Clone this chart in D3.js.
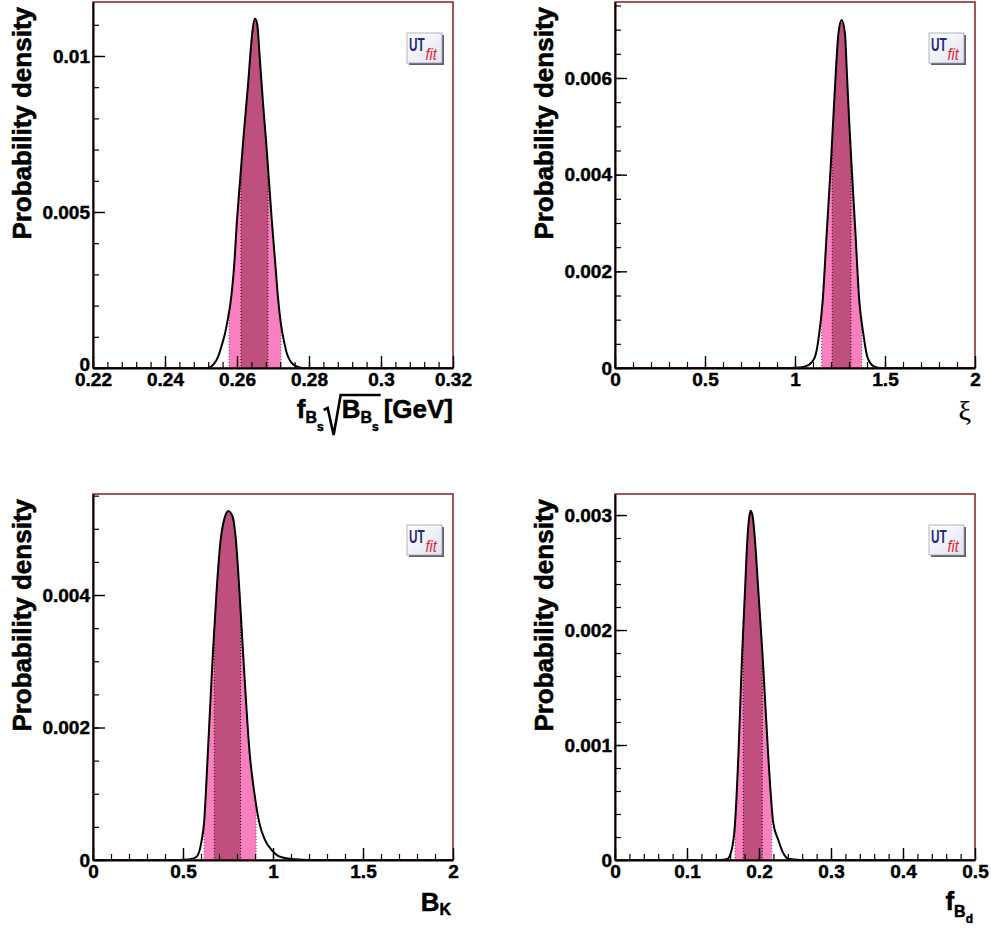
<!DOCTYPE html>
<html><head><meta charset="utf-8">
<script src="https://cdn.jsdelivr.net/npm/d3@7"></script>
<style>body{margin:0;background:#fff} svg{display:block}</style>
</head><body>
<svg id="c" width="991" height="929"></svg>
<script>
// ---------- DATA ----------
// Panel 1: f_Bs sqrt(B_Bs) [GeV]
const fbsX = [0.22, 0.2511, 0.2525, 0.2536, 0.2547, 0.2558, 0.2567, 0.2575, 0.2583, 0.2592, 0.2600, 0.2608, 0.2619, 0.2631, 0.2639, 0.2644, 0.2650,
              0.2656, 0.2664, 0.2672, 0.2681, 0.2689, 0.2697, 0.2706, 0.2714, 0.2722, 0.2731, 0.2739, 0.2750, 0.2764, 0.2783, 0.32];
const fbsY = [0, 0, 0.00003, 0.00013, 0.00035, 0.00074, 0.00112, 0.00160, 0.00218, 0.00327, 0.00474, 0.00593, 0.00753, 0.00913, 0.01032, 0.01090, 0.01119,
              0.01103, 0.00981, 0.00853, 0.00724, 0.00596, 0.00468, 0.00340, 0.00224, 0.00141, 0.00083, 0.00045, 0.00019, 0.00006, 0, 0];
const fbsBand68 = [0.2611, 0.2686];
const fbsBand95 = [0.2578, 0.2722];
const fbsXTicks = [0.22, 0.24, 0.26, 0.28, 0.30, 0.32];
const fbsXLabels = ["0.22", "0.24", "0.26", "0.28", "0.3", "0.32"];
const fbsYTicks = [0, 0.005, 0.01];
const fbsYLabels = ["0", "0.005", "0.01"];

// Panel 2: xi
const xiX = [0, 0.972, 1.028, 1.074, 1.111, 1.135, 1.154, 1.176, 1.198, 1.213, 1.228, 1.241, 1.259,
             1.278, 1.287, 1.300, 1.315, 1.336, 1.357, 1.379, 1.402, 1.435, 1.472, 2];
const xiY = [0, 0, 0.00001, 0.00006, 0.00023, 0.00072, 0.00140, 0.00278, 0.00414, 0.00518, 0.00621, 0.00691, 0.00720,
             0.00691, 0.00621, 0.00518, 0.00414, 0.00278, 0.00140, 0.00072, 0.00023, 0.00004, 0, 0];
const xiBand68 = [1.207, 1.311];
const xiBand95 = [1.148, 1.371];
const xiXTicks = [0, 0.5, 1, 1.5, 2];
const xiXLabels = ["0", "0.5", "1", "1.5", "2"];
const xiYTicks = [0, 0.002, 0.004, 0.006];
const xiYLabels = ["0", "0.002", "0.004", "0.006"];

// Panel 3: B_K
const bkX = [0, 0.483, 0.539, 0.576, 0.604, 0.617, 0.637, 0.665, 0.687, 0.709, 0.733, 0.752,
             0.776, 0.794, 0.813, 0.835, 0.872, 0.894, 0.924, 0.956, 0.993, 1.039, 1.122, 1.20, 2];
const bkY = [0, 0, 0.00001, 0.00005, 0.00030, 0.00056, 0.00156, 0.00307, 0.00408, 0.00483, 0.00518, 0.00527,
             0.00518, 0.00483, 0.00408, 0.00307, 0.00156, 0.00106, 0.00056, 0.00030, 0.00015, 0.00005, 0.00001, 0, 0];
const bkBand68 = [0.674, 0.820];
const bkBand95 = [0.617, 0.906];
const bkXTicks = [0, 0.5, 1, 1.5, 2];
const bkXLabels = ["0", "0.5", "1", "1.5", "2"];
const bkYTicks = [0, 0.002, 0.004];
const bkYLabels = ["0", "0.002", "0.004"];

// Panel 4: f_Bd
const fbdX = [0, 0.1458, 0.156, 0.162, 0.1667, 0.1713, 0.1764, 0.1806, 0.1838, 0.1865, 0.1884,
              0.1913, 0.1944, 0.1990, 0.2051, 0.2129, 0.2199, 0.2268, 0.2338, 0.2407, 0.257, 0.5];
const fbdY = [0, 0, 0.00001, 0.000087, 0.000319, 0.000898, 0.001768, 0.002348, 0.002783, 0.002985, 0.003037,
              0.002985, 0.002783, 0.002348, 0.001768, 0.000898, 0.000319, 0.000174, 0.000058, 0.00001, 0, 0];
const fbdBand68 = [0.1782, 0.2046];
const fbdBand95 = [0.1667, 0.2176];
const fbdXTicks = [0, 0.1, 0.2, 0.3, 0.4, 0.5];
const fbdXLabels = ["0", "0.1", "0.2", "0.3", "0.4", "0.5"];
const fbdYTicks = [0, 0.001, 0.002, 0.003];
const fbdYLabels = ["0", "0.001", "0.002", "0.003"];

const yTitle = "Probability density";

// ---------- DRAWING ----------
const svg = d3.select('#c');
const W = 360, H = 366;
const FONT = "'Liberation Sans', Arial, Helvetica, sans-serif";
const DARK = "#bf507e", LIGHT = "#f880bf";

const defs = svg.append('defs');
const grad = defs.append('linearGradient').attr('id', 'logoGrad').attr('x1', 0).attr('y1', 0).attr('x2', 1).attr('y2', 1);
grad.append('stop').attr('offset', '0%').attr('stop-color', '#ffffff');
grad.append('stop').attr('offset', '100%').attr('stop-color', '#e2e2f2');

function minorTicks(domain, step) {
  const n = Math.round((domain[1] - domain[0]) / step);
  return d3.range(n + 1).map(i => domain[0] + i * step);
}

function styleText(sel, size, sw) {
  sel.attr('font-family', FONT).attr('font-size', size).attr('font-weight', 'bold').attr('fill', '#000')
     .attr('stroke', '#000').attr('stroke-width', sw == null ? 0.45 : sw);
}

function drawTitle(g, segs, xRight, baseY) {
  const tg = g.append('g');
  let cx = 0; let sqrtX0 = null;
  const items = [];
  segs.forEach(s => {
    if (s.sqrtStart) { sqrtX0 = cx; cx += 18; return; }
    if (s.sqrtEnd) { items.push({x0: sqrtX0, x1: cx + 2}); cx += 5; return; }
    const t = tg.append('text').attr('x', cx).attr('y', baseY + (s.dy || 0)).text(s.t)
      .attr('font-family', s.family || FONT).attr('font-size', s.size)
      .attr('font-weight', s.weight || 'bold').attr('font-style', s.style || 'normal').attr('fill', '#000')
      .attr('stroke', '#000').attr('stroke-width', s.weight === 'normal' ? 0.2 : 0.5);
    cx += t.node().getComputedTextLength() + (s.gap || 0);
  });
  items.forEach(it => {
    const x0 = it.x0;
    tg.append('path')
      .attr('d', `M${x0},${baseY - 8} L${x0 + 4},${baseY - 10} L${x0 + 10},${baseY + 17} L${x0 + 17},${baseY - 23} L${it.x1},${baseY - 23}`)
      .attr('fill', 'none').attr('stroke', '#000').attr('stroke-width', 2.6).attr('stroke-linejoin', 'miter');
  });
  tg.attr('transform', `translate(${xRight - cx},0)`);
}

function drawLogo(g, x0, y0) {
  const lg = g.append('g').attr('transform', `translate(${x0},${y0})`);
  lg.append('rect').attr('x', 2).attr('y', 2).attr('width', 35).attr('height', 30).attr('fill', '#5e5e70');
  lg.append('rect').attr('x', 0).attr('y', 0).attr('width', 35).attr('height', 30)
    .attr('fill', 'url(#logoGrad)').attr('stroke', '#a0a0b4').attr('stroke-width', 0.8);
  lg.append('text').attr('transform', 'translate(2,17.5) scale(0.62,1)').text('UT')
    .attr('font-family', FONT).attr('font-weight', 'bold').attr('font-size', 19)
    .attr('fill', '#1f2a78');
  lg.append('text').attr('transform', 'translate(18.5,26.5) scale(0.9,1)').text('fit')
    .attr('font-family', FONT).attr('font-style', 'italic').attr('font-size', 16)
    .attr('fill', '#e3262e');
}

function drawPanel(cfg, idx) {
  const g = svg.append('g').attr('transform', `translate(${cfg.left},${cfg.top})`);
  const x = d3.scaleLinear().domain(cfg.xDomain).range([0, W]);
  const y = d3.scaleLinear().domain(cfg.yDomain).range([H, 0]);

  const pts = d3.zip(cfg.xs, cfg.ys);
  const area = d3.area().x(d => x(d[0])).y0(H).y1(d => y(d[1])).curve(d3.curveMonotoneX);
  const line = d3.line().x(d => x(d[0])).y(d => y(d[1])).curve(d3.curveMonotoneX);

  const cid = 'clip' + idx;
  defs.append('clipPath').attr('id', cid).append('path').attr('d', area(pts));

  const bg = g.append('g').attr('clip-path', `url(#${cid})`);
  bg.append('rect').attr('x', x(cfg.b95[0])).attr('width', x(cfg.b95[1]) - x(cfg.b95[0]))
    .attr('y', 0).attr('height', H).attr('fill', LIGHT);
  bg.append('rect').attr('x', x(cfg.b68[0])).attr('width', x(cfg.b68[1]) - x(cfg.b68[0]))
    .attr('y', 0).attr('height', H).attr('fill', DARK);
  cfg.b95.forEach(v => bg.append('line').attr('x1', x(v)).attr('x2', x(v)).attr('y1', 0).attr('y2', H)
    .attr('stroke', '#b03070').attr('stroke-width', 1).attr('stroke-dasharray', '1,2'));
  cfg.b68.forEach(v => bg.append('line').attr('x1', x(v)).attr('x2', x(v)).attr('y1', 0).attr('y2', H)
    .attr('stroke', '#301020').attr('stroke-width', 1).attr('stroke-dasharray', '1,2'));

  g.append('path').attr('d', line(pts)).attr('fill', 'none').attr('stroke', '#000')
    .attr('stroke-width', 2).attr('stroke-linejoin', 'round');

  // frame
  g.append('rect').attr('x', 0).attr('y', 0).attr('width', W).attr('height', H)
    .attr('fill', 'none').attr('stroke', '#7a1010').attr('stroke-width', 1.4);

  // minor ticks
  const gxm = g.append('g').attr('transform', `translate(0,${H})`)
    .call(d3.axisBottom(x).tickValues(minorTicks(cfg.xDomain, cfg.xMinor)).tickFormat('').tickSize(-6).tickSizeOuter(0));
  const yMinorVals = minorTicks([0, cfg.yDomain[1]], cfg.yMinor).filter(v => v <= cfg.yDomain[1]);
  const gym = g.append('g')
    .call(d3.axisLeft(y).tickValues(yMinorVals).tickFormat('').tickSize(-6).tickSizeOuter(0));
  [gxm, gym].forEach(a => { a.select('.domain').remove(); a.selectAll('line').attr('stroke', '#000').attr('stroke-width', 1.2); });

  // major axes
  const gx = g.append('g').attr('transform', `translate(0,${H})`)
    .call(d3.axisBottom(x).tickValues(cfg.xTicks).tickFormat((d, i) => cfg.xLabels[i])
      .tickSize(-12).tickSizeOuter(0).tickPadding(5));
  const gy = g.append('g')
    .call(d3.axisLeft(y).tickValues(cfg.yTicks).tickFormat((d, i) => cfg.yLabels[i])
      .tickSize(-12).tickSizeOuter(0).tickPadding(3));
  [gx, gy].forEach(a => {
    a.select('.domain').attr('stroke', '#000').attr('stroke-width', 2);
    a.selectAll('line').attr('stroke', '#000').attr('stroke-width', 1.4);
    styleText(a.selectAll('text'), 19, 0.45);
  });
  if (cfg.zeroLift) {
    gy.selectAll('.tick').filter(d => d === 0).select('text').attr('y', -cfg.zeroLift);
  }

  // y title
  const yt = g.append('text').attr('transform', `translate(-62,5) rotate(-90)`)
    .attr('text-anchor', 'end').text(yTitle);
  styleText(yt, 26, 0.6);

  // x title
  drawTitle(g, cfg.xTitle, W - (cfg.titleInset || 0), H + 50);

  drawLogo(g, W - 46, 31);
}

const panels = [
  {left: 93, top: 2, xDomain: [0.22, 0.32], yDomain: [0, 0.01173], xs: fbsX, ys: fbsY, b68: fbsBand68, b95: fbsBand95,
   xTicks: fbsXTicks, xLabels: fbsXLabels, yTicks: fbsYTicks, yLabels: fbsYLabels, xMinor: 0.004, yMinor: 0.001,
   zeroLift: 4,
   xTitle: [{t: 'f', size: 26}, {t: 'B', size: 16, dy: 5}, {t: 's', size: 12, dy: 13}, {sqrtStart: true},
            {t: 'B', size: 26}, {t: 'B', size: 16, dy: 5}, {t: 's', size: 12, dy: 13}, {sqrtEnd: true}, {t: '[GeV]', size: 26}]},
  {left: 615, top: 2, xDomain: [0, 2], yDomain: [0, 0.007572], xs: xiX, ys: xiY, b68: xiBand68, b95: xiBand95,
   xTicks: xiXTicks, xLabels: xiXLabels, yTicks: xiYTicks, yLabels: xiYLabels, xMinor: 0.1, yMinor: 0.0005,
   titleInset: 4,
   xTitle: [{t: 'ξ', size: 28, weight: 'normal', family: "'Liberation Serif', 'Times New Roman', serif", dy: 2}]},
  {left: 93, top: 494, xDomain: [0, 2], yDomain: [0, 0.005525], xs: bkX, ys: bkY, b68: bkBand68, b95: bkBand95,
   xTicks: bkXTicks, xLabels: bkXLabels, yTicks: bkYTicks, yLabels: bkYLabels, xMinor: 0.1, yMinor: 0.0005,
   titleInset: 2,
   xTitle: [{t: 'B', size: 26, dy: 1}, {t: 'K', size: 16, dy: 5}]},
  {left: 615, top: 494, xDomain: [0, 0.5], yDomain: [0, 0.003183], xs: fbdX, ys: fbdY, b68: fbdBand68, b95: fbdBand95,
   xTicks: fbdXTicks, xLabels: fbdXLabels, yTicks: fbdYTicks, yLabels: fbdYLabels, xMinor: 0.02, yMinor: 0.0002,
   titleInset: 2,
   xTitle: [{t: 'f', size: 26}, {t: 'B', size: 16, dy: 7}, {t: 'd', size: 12, dy: 13}]}
];

panels.forEach((p, i) => drawPanel(p, i));
</script>
</body></html>
